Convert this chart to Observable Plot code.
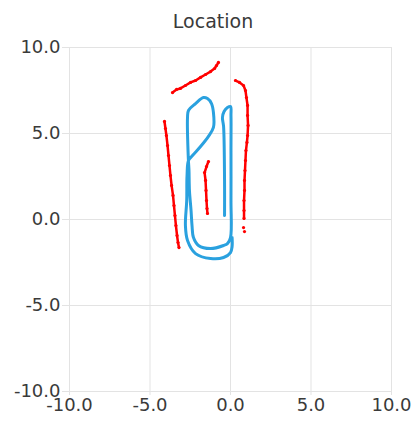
<!DOCTYPE html>
<html>
<head>
<meta charset="utf-8">
<script src="https://cdn.jsdelivr.net/npm/d3@7"></script>
<script src="https://cdn.jsdelivr.net/npm/@observablehq/plot@0.6"></script>
<style>
  html, body { margin: 0; padding: 0; background: #fff; }
  #title { width: 413px; height: 32px; box-sizing: border-box; padding-top: 10px; padding-left: 13px;
           text-align: center; font: 19px "DejaVu Sans", sans-serif; line-height: 22px; color: #3a3a3a; }
  #chart svg { display: block; overflow: visible; }
</style>
</head>
<body>
<div id="title">Location</div>
<div id="chart"></div>
<script>
// Tick values
const ticks = [-10, -5, 0, 5, 10];

// Blue trajectory (paperclip drawn by the pen)
const blueTrace = [
  [-0.37, 0.23], [-0.37, 2.27], [-0.43, 5.41], [-0.50, 5.93], [-0.40, 6.28], [-0.19, 6.51],
  [0.00, 6.57], [0.03, 6.05], [0.03, 4.01], [0.03, 1.10], [0.00, -1.05], [-0.19, -1.40],
  [-0.43, -1.51], [-1.24, -1.69], [-1.99, -1.51], [-2.30, -1.05], [-2.39, -0.35],
  [-2.45, 0.52], [-2.55, 1.70], [-2.58, 2.90], [-2.62, 3.55], [-2.67, 5.93], [-2.61, 6.34],
  [-2.17, 6.74], [-1.68, 7.09], [-1.43, 7.03], [-1.18, 6.74], [-1.06, 6.22], [-1.06, 5.35],
  [-1.37, 4.83], [-1.86, 4.24], [-2.36, 3.72], [-2.61, 3.43], [-2.70, 2.56], [-2.72, 1.10],
  [-2.80, -0.35], [-2.67, -1.22], [-2.17, -1.98], [-1.24, -2.27], [-0.43, -2.21],
  [0.00, -1.92], [0.10, -1.57], [0.10, -1.05]
];

// Red detected points, four strokes
const redTop = [
  [-3.60, 7.38], [-3.35, 7.56], [-3.11, 7.62], [-2.80, 7.79], [-2.48, 7.97], [-2.17, 8.08],
  [-1.86, 8.26], [-1.55, 8.43], [-1.24, 8.60], [-0.99, 8.78], [-0.87, 8.95], [-0.75, 9.13]
];
const redRight = [
  [0.31, 8.08], [0.56, 7.97], [0.81, 7.79], [0.93, 7.50], [0.99, 7.09], [1.06, 6.63],
  [1.06, 6.05], [1.09, 5.47], [1.06, 4.88], [1.02, 4.48], [0.96, 4.01], [0.93, 3.43],
  [0.90, 2.85], [0.87, 2.27], [0.87, 1.69], [0.84, 1.10], [0.84, 0.52], [0.84, 0.06]
];
const redRightDots = [[0.81, -0.47], [0.87, -0.70]];
const redLeft = [
  [-4.10, 5.70], [-4.04, 5.29], [-3.98, 4.88], [-3.91, 4.30], [-3.85, 3.72], [-3.79, 3.14],
  [-3.73, 2.56], [-3.66, 1.98], [-3.57, 1.40], [-3.51, 0.81], [-3.45, 0.23], [-3.39, -0.35],
  [-3.32, -0.93], [-3.26, -1.34], [-3.20, -1.63]
];
const redMiddle = [
  [-1.37, 3.37], [-1.49, 3.08], [-1.61, 2.73], [-1.55, 2.27], [-1.52, 1.69], [-1.49, 1.10],
  [-1.46, 0.64], [-1.43, 0.35]
];

const toRows = (arr, id) => arr.map(([x, y]) => ({x, y, id}));
const redLines = [
  ...toRows(redTop, "top"), ...toRows(redRight, "right"),
  ...toRows(redLeft, "left"), ...toRows(redMiddle, "middle")
];
const redDots = [...redLines, ...toRows(redRightDots, "dots")];
const blueRows = toRows(blueTrace, "blue");

const fmt = d => d.toFixed(1);
const grid = "#e3e3e3";
const text = "#3a3a3a";

const chart = Plot.plot({
  width: 413,
  height: 391,
  marginLeft: 69,
  marginRight: 22,
  marginTop: 15,
  marginBottom: 32,
  style: {fontFamily: "DejaVu Sans, sans-serif", fontSize: "18px", background: "#fff"},
  x: {domain: [-10, 10], label: null},
  y: {domain: [-10, 10], label: null},
  marks: [
    Plot.gridX(ticks, {stroke: grid, strokeOpacity: 1}),
    Plot.gridY(ticks, {stroke: grid, strokeOpacity: 1}),
    Plot.axisX(ticks, {tickSize: 4, tickPadding: 3, stroke: grid, strokeOpacity: 1, fill: text, tickFormat: fmt, label: null, fontSize: 18}),
    Plot.axisY(ticks, {tickSize: 7, tickPadding: 2, stroke: grid, strokeOpacity: 1, fill: text, tickFormat: fmt, label: null, fontSize: 18}),
    Plot.line(redLines, {x: "x", y: "y", z: "id", stroke: "#ff0000", strokeWidth: 2.5, curve: "linear"}),
    Plot.dot(redDots, {x: "x", y: "y", r: 1.6, fill: "#ff0000", stroke: null}),
    Plot.line(blueRows, {x: "x", y: "y", stroke: "#2aa1df", strokeWidth: 3, curve: "catmull-rom"})
  ]
});
document.getElementById("chart").appendChild(chart);
</script>
</body>
</html>
